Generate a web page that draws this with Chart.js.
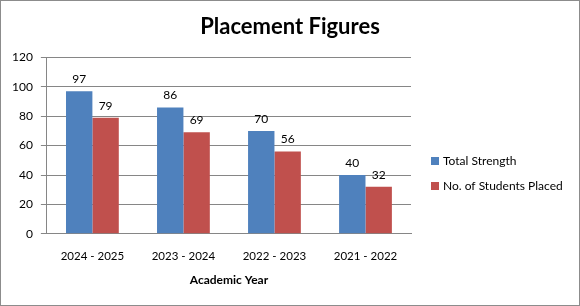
<!DOCTYPE html>
<html>
<head>
<meta charset="utf-8">
<script src="https://cdn.jsdelivr.net/npm/chart.js@4/dist/chart.umd.min.js"></script>
<style>
html,body{margin:0;padding:0;background:#fff;}
#wrap{width:580px;height:306px;position:relative;}
</style>
</head>
<body>
<div id="wrap"><canvas id="c" width="580" height="306"></canvas></div>
<script>
const categories = ["2024 - 2025", "2023 - 2024", "2022 - 2023", "2021 - 2022"];
const totalStrength = [97, 86, 70, 40];
const studentsPlaced = [79, 69, 56, 32];
const yTicks = [0, 20, 40, 60, 80, 100, 120];
const seriesNames = ["Total Strength", "No. of Students Placed"];
const seriesColors = ["#4F81BD", "#C0504D"];

const FONT = "Lato, 'Open Sans', sans-serif";

const bgBorder = {
  id: 'bgBorder',
  afterLayout(chart) {
    // centre the title over the whole canvas, as in the reference
    const tb = chart.titleBlock;
    if (tb) { tb.left = 0; tb.right = chart.width; tb.width = chart.width; }
  },
  beforeDraw(chart) {
    const ctx = chart.ctx;
    ctx.save();
    ctx.fillStyle = '#fff';
    ctx.fillRect(0, 0, chart.width, chart.height);
    ctx.restore();
  },
  afterDraw(chart) {
    const ctx = chart.ctx;
    ctx.save();
    ctx.strokeStyle = '#8c8c8c';
    ctx.lineWidth = 1;
    ctx.strokeRect(0.5, 0.5, chart.width - 1, chart.height - 1);
    ctx.restore();
  }
};

const valueLabels = {
  id: 'valueLabels',
  afterDatasetsDraw(chart) {
    const ctx = chart.ctx;
    ctx.save();
    ctx.font = "12px " + FONT;
    ctx.fillStyle = '#000';
    ctx.textAlign = 'center';
    ctx.textBaseline = 'bottom';
    chart.data.datasets.forEach((ds, i) => {
      const meta = chart.getDatasetMeta(i);
      meta.data.forEach((bar, j) => {
        ctx.fillText(String(ds.data[j]), bar.x, bar.y - 6);
      });
    });
    ctx.restore();
  }
};

const customLegend = {
  id: 'customLegend',
  afterDraw(chart) {
    const ctx = chart.ctx;
    ctx.save();
    ctx.font = "12px " + FONT;
    ctx.textBaseline = 'middle';
    ctx.textAlign = 'left';
    const x0 = 431;
    const ys = [161, 186];
    chart.data.datasets.forEach((ds, i) => {
      const y = ys[i];
      ctx.fillStyle = ds.backgroundColor;
      ctx.fillRect(x0, y - 4, 8, 8);
      ctx.fillStyle = '#000';
      ctx.fillText(ds.label, x0 + 12, y);
    });
    ctx.restore();
  }
};

new Chart(document.getElementById('c'), {
  type: 'bar',
  data: {
    labels: categories,
    datasets: [
      { label: seriesNames[0], data: totalStrength, backgroundColor: seriesColors[0] },
      { label: seriesNames[1], data: studentsPlaced, backgroundColor: seriesColors[1] }
    ]
  },
  options: {
    responsive: false,
    animation: false,
    devicePixelRatio: 1,
    layout: { padding: { top: 4, left: 4, right: 169, bottom: 15 } },
    datasets: { bar: { barPercentage: 1.0, categoryPercentage: 0.58 } },
    plugins: {
      legend: { display: false },
      tooltip: { enabled: false },
      title: {
        display: true,
        text: 'Placement Figures',
        color: '#000',
        font: { family: FONT, size: 22, weight: 'bold' },
        padding: { top: 10, bottom: 17 }
      }
    },
    scales: {
      x: {
        grid: { display: false, drawTicks: true, tickLength: 14 },
        border: { display: true, color: '#868686' },
        ticks: { color: '#000', font: { family: FONT, size: 11.5 }, padding: 2, maxRotation: 0 },
        title: {
          display: true,
          text: 'Academic Year',
          color: '#000',
          font: { family: FONT, size: 12, weight: 'bold' },
          padding: { top: 7, bottom: 4 }
        }
      },
      y: {
        min: 0,
        max: 120,
        afterBuildTicks(scale) { scale.ticks = yTicks.map(v => ({ value: v })); },
        grid: { color: '#868686', tickLength: 6, drawTicks: true },
        border: { display: true, color: '#868686' },
        ticks: { color: '#000', font: { family: FONT, size: 12 }, padding: 8 }
      }
    }
  },
  plugins: [bgBorder, valueLabels, customLegend]
});
</script>
</body>
</html>
